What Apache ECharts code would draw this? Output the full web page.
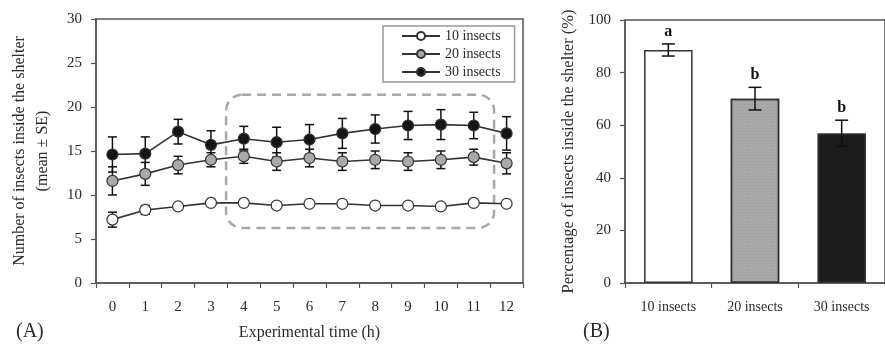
<!DOCTYPE html>
<html>
<head>
<meta charset="utf-8">
<script src="https://cdn.jsdelivr.net/npm/echarts@6/dist/echarts.min.js"></script>
<style>
  html, body { margin: 0; padding: 0; background: #fff; }
  #chart { width: 885px; height: 352px; }
</style>
</head>
<body>
<div id="chart"></div>
<script>
// Panel A: insects inside the shelter over time (mean ± SE)
const hours = ['0', '1', '2', '3', '4', '5', '6', '7', '8', '9', '10', '11', '12'];
const mean10 = [7.2, 8.3, 8.7, 9.1, 9.1, 8.8, 9.0, 9.0, 8.8, 8.8, 8.7, 9.1, 9.0];
const se10 = [0.85, 0.5, 0.25, 0.2, 0.2, 0.2, 0.2, 0.2, 0.2, 0.2, 0.2, 0.2, 0.2];
const mean20 = [11.6, 12.4, 13.4, 14.0, 14.4, 13.8, 14.2, 13.8, 14.0, 13.8, 14.0, 14.3, 13.6];
const se20 = [1.6, 1.3, 1.0, 0.8, 0.8, 1.0, 1.0, 1.0, 1.0, 1.0, 1.0, 0.9, 1.2];
const mean30 = [14.6, 14.7, 17.2, 15.7, 16.4, 16.0, 16.3, 17.0, 17.5, 17.9, 18.0, 17.9, 17.0];
const se30 = [2.0, 1.9, 1.4, 1.6, 1.4, 1.7, 1.7, 1.7, 1.6, 1.6, 1.7, 1.5, 1.9];
// dashed highlight box, in data units (category index, y value)
const boxX = [3.46, 11.62];
const boxY = [6.25, 21.4];

// Panel B: percentage inside the shelter
const groups = ['10 insects', '20 insects', '30 insects'];
const pctMean = [88.6, 70.1, 56.9];
const pctSe = [2.3, 4.3, 5.0];
const letters = ['a', 'b', 'b'];

const FONT = '"Liberation Serif", "DejaVu Serif", serif';
const INK = '#2b2b2b';
const AXIS = '#555';

const chart = echarts.init(document.getElementById('chart'));

function errorBars(capHalf, withLetters) {
  return function (params, api) {
    const x = api.value(0);
    const lo = api.coord([x, api.value(1)]);
    const hi = api.coord([x, api.value(2)]);
    const st = { stroke: '#111', lineWidth: 1.5 };
    const children = [
      { type: 'line', shape: { x1: lo[0], y1: lo[1], x2: hi[0], y2: hi[1] }, style: st },
      { type: 'line', shape: { x1: hi[0] - capHalf, y1: hi[1], x2: hi[0] + capHalf, y2: hi[1] }, style: st },
      { type: 'line', shape: { x1: lo[0] - capHalf, y1: lo[1], x2: lo[0] + capHalf, y2: lo[1] }, style: st }
    ];
    if (withLetters) {
      children.push({
        type: 'text',
        style: {
          text: letters[params.dataIndex], x: hi[0], y: hi[1] - 4,
          align: 'center', verticalAlign: 'bottom',
          font: 'bold 16px ' + FONT, fill: '#111'
        }
      });
    }
    return { type: 'group', children: children };
  };
}

function errData(mean, se) {
  return mean.map((m, i) => [i, m - se[i], m + se[i]]);
}

function lineSeries(name, data, fill) {
  return {
    name: name,
    type: 'line',
    xAxisIndex: 0,
    yAxisIndex: 0,
    data: data,
    symbol: 'circle',
    symbolSize: 11,
    z: 3,
    lineStyle: { color: '#333', width: 1.6 },
    itemStyle: { color: fill, borderColor: '#333', borderWidth: 1.2 },
    emphasis: { disabled: true }
  };
}

const axisCommon = {
  axisLine: { show: true, lineStyle: { color: AXIS, width: 1.5 } },
  axisTick: { show: true, length: 5, lineStyle: { color: AXIS, width: 1.2 } },
  splitLine: { show: false }
};

const option = {
  animation: false,
  textStyle: { fontFamily: FONT },
  grid: [
    { left: 96, top: 19, width: 427, height: 264, show: true, borderColor: AXIS, borderWidth: 1.5 },
    { left: 625, top: 20, width: 267, height: 263, show: true, borderColor: AXIS, borderWidth: 1.5 }
  ],
  legend: {
    orient: 'vertical',
    left: 383,
    top: 26,
    data: ['10 insects', '20 insects', '30 insects'],
    itemWidth: 38,
    itemHeight: 10,
    itemGap: 4,
    padding: [3, 14, 3, 18],
    borderColor: '#999',
    borderWidth: 1.5,
    backgroundColor: '#fff',
    textStyle: { fontSize: 14, color: INK, fontFamily: FONT }
  },
  xAxis: [
    Object.assign({}, axisCommon, {
      type: 'category', gridIndex: 0, data: hours, boundaryGap: true,
      axisLabel: { color: INK, fontSize: 15, margin: 17, fontFamily: FONT },
      name: 'Experimental time (h)', nameLocation: 'middle', nameGap: 42,
      nameTextStyle: { fontSize: 16, color: INK, fontFamily: FONT }
    }),
    Object.assign({}, axisCommon, {
      type: 'category', gridIndex: 1, data: groups, boundaryGap: true,
      axisLabel: { color: INK, fontSize: 14, margin: 17, fontFamily: FONT }
    })
  ],
  yAxis: [
    Object.assign({}, axisCommon, {
      type: 'value', gridIndex: 0, min: 0, max: 30, interval: 5,
      axisLabel: { color: INK, fontSize: 15, margin: 14, fontFamily: FONT },
      name: 'Number of insects inside the shelter\n(mean ± SE)',
      nameLocation: 'middle', nameGap: 42,
      nameTextStyle: { fontSize: 16, color: INK, lineHeight: 23, fontFamily: FONT }
    }),
    Object.assign({}, axisCommon, {
      type: 'value', gridIndex: 1, min: 0, max: 100, interval: 20,
      axisLabel: { color: INK, fontSize: 15, margin: 14, fontFamily: FONT },
      name: 'Percentage of insects inside the shelter (%)',
      nameLocation: 'middle', nameGap: 48,
      nameTextStyle: { fontSize: 16.5, color: INK, fontFamily: FONT }
    })
  ],
  series: [
    { type: 'custom', xAxisIndex: 0, yAxisIndex: 0, z: 2, renderItem: errorBars(4.5, false), data: errData(mean10, se10) },
    { type: 'custom', xAxisIndex: 0, yAxisIndex: 0, z: 2, renderItem: errorBars(4.5, false), data: errData(mean20, se20) },
    { type: 'custom', xAxisIndex: 0, yAxisIndex: 0, z: 2, renderItem: errorBars(4.5, false), data: errData(mean30, se30) },
    lineSeries('10 insects', mean10, '#ffffff'),
    lineSeries('20 insects', mean20, '#a9a9a9'),
    lineSeries('30 insects', mean30, '#151515'),
    {
      type: 'bar',
      xAxisIndex: 1,
      yAxisIndex: 1,
      barWidth: '56%',
      z: 2,
      data: [
        { value: pctMean[0], itemStyle: { color: '#ffffff' } },
        {
          value: pctMean[1],
          itemStyle: {
            color: '#a4a4a4',
            decal: { symbol: 'rect', symbolSize: 0.6, dashArrayX: [2, 1], dashArrayY: [2, 1], color: 'rgba(200,200,200,0.6)' }
          }
        },
        { value: pctMean[2], itemStyle: { color: '#1c1c1c' } }
      ],
      itemStyle: { borderColor: '#333', borderWidth: 1.5 },
      emphasis: { disabled: true }
    },
    { type: 'custom', xAxisIndex: 1, yAxisIndex: 1, z: 3, renderItem: errorBars(6.5, true), data: errData(pctMean, pctSe) }
  ]
};

chart.setOption(option);

// dashed rounded box and panel tags, positioned through the axes
const p0 = chart.convertToPixel({ xAxisIndex: 0, yAxisIndex: 0 }, [0, boxY[0]]);
const p1 = chart.convertToPixel({ xAxisIndex: 0, yAxisIndex: 0 }, [1, boxY[1]]);
const step = p1[0] - p0[0];
const bx0 = p0[0] + boxX[0] * step;
const bx1 = p0[0] + boxX[1] * step;

chart.setOption({
  graphic: [
    {
      type: 'rect', z: 1,
      shape: { x: bx0, y: p1[1], width: bx1 - bx0, height: p0[1] - p1[1], r: 16 },
      style: { fill: 'none', stroke: '#a8a8a8', lineWidth: 2.5, lineDash: [9, 6] }
    },
    { type: 'text', left: 16, top: 322, style: { text: '(A)', font: '20px ' + FONT, fill: INK } },
    { type: 'text', left: 583, top: 322, style: { text: '(B)', font: '20px ' + FONT, fill: INK } }
  ]
});
</script>
</body>
</html>
